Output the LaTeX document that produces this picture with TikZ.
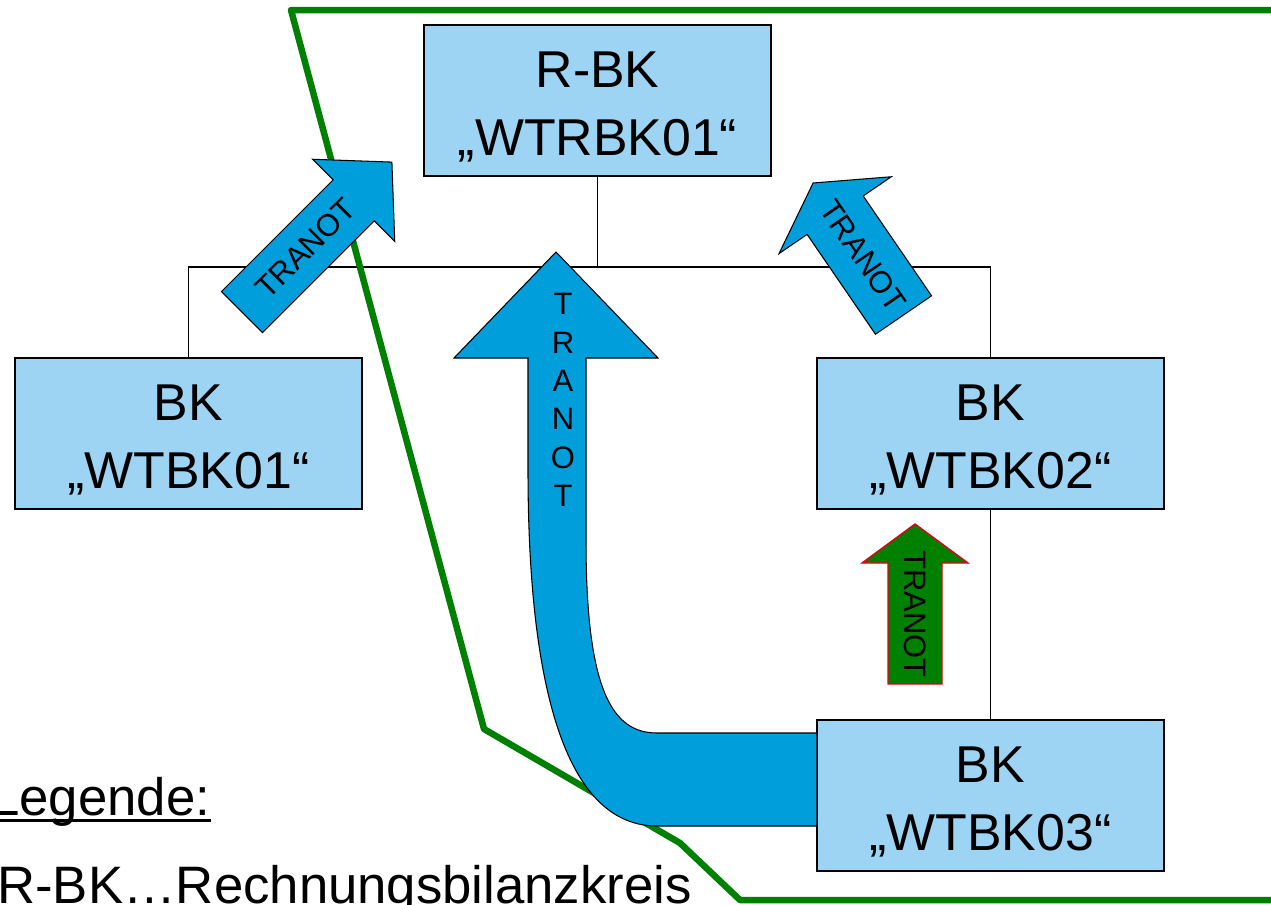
\documentclass[tikz,border=0pt]{standalone}
\usepackage{fontspec}
\setmainfont{Liberation Sans}
\definecolor{boxblue}{RGB}{157,211,243}
\definecolor{flowblue}{RGB}{0,158,219}
\definecolor{bordergreen}{RGB}{0,128,0}
\definecolor{tipred}{RGB}{228,0,27}
\newcommand{\kopfzeile}{\rule{0pt}{27.5pt}}
\begin{document}
\begin{tikzpicture}[
        x=0.02cm, y=-0.02cm,
        kreis/.style={rectangle, draw=black, line width=0.85pt, fill=boxblue, minimum width=6.94cm, minimum height=3.02cm, inner sep=0pt, align=center, font=\fontsize{29.5}{38.6}\selectfont},
        tranot/.style={draw=black, line width=0.6pt, fill=flowblue},
        arrowtext/.style={inner sep=0pt, font=\fontsize{17.6}{21.8}\selectfont},
        legendtext/.style={anchor=base west, inner sep=0pt, font=\fontsize{30}{36}\selectfont}
    ]
    \useasboundingbox (0,0) rectangle (1271,904);

    % Bilanzkreise
    \node[kreis] (rbk) at (597.5,100.5) {\kopfzeile R-BK\\„WTRBK01“};
    \node[kreis] (bk01) at (188.5,433.5) {\kopfzeile BK\\„WTBK01“};
    \node[kreis] (bk02) at (990.5,433.5) {\kopfzeile BK\\„WTBK02“};
    \node[kreis] (bk03) at (990.5,795.5) {\kopfzeile BK\\„WTBK03“};

    % Baum
    \coordinate (abzweig) at (597.5,267);
    \draw[line width=0.6pt] (rbk.south) -- (abzweig);
    \draw[line width=0.6pt] (bk01.north) |- (abzweig) -| (bk02.north);
    \draw[line width=0.6pt] (bk02.south) -- (bk03.north);

    % Grenze
    \draw[bordergreen, line width=3.7pt, line join=round] (1290,10) -- (291,10) -- (484,729) -- (680,843) -- (740,900) -- (1290,900);

    % TRANOT-Pfeile
    \begin{scope}[shift={(242,312)}, rotate=45]
        \draw[tranot] (0,-29) -- (158,-29) -- (158,-58) -- (212,0) -- (158,58) -- (158,29) -- (0,29) -- cycle;
        \node[arrowtext, rotate=45] (tranot1) at (90,0) {TRANOT};
    \end{scope}
    \begin{scope}[shift={(903.5,315)}, rotate=124.4]
        \draw[tranot] (0,-34) -- (121,-34) -- (121,-68) -- (160,0) -- (121,68) -- (121,34) -- (0,34) -- cycle;
        \node[arrowtext, rotate=-55.6] (tranot2) at (72,0) {TRANOT};
    \end{scope}
    \draw[tranot] (528,358) -- (454,358) -- (556,252) -- (658,358) -- (586,358) -- (586,540)
        .. controls (586,690) and (612,733) .. (657,733) -- (817,733) -- (817,826) -- (657,826)
        .. controls (570,826) and (528,700) .. (528,470) -- cycle;
    \node[arrowtext, align=center] (tranot3) at (563,400) {T\\R\\A\\N\\O\\T};
    \draw[fill=bordergreen, draw=tipred, line width=0.8pt] (888,684) -- (888,563) -- (862,563) -- (915,524) -- (968,563) -- (942,563) -- (942,684) -- cycle;
    \node[arrowtext, rotate=-90] (tranot4) at (915,614) {TRANOT};

    % Legende
    \node[legendtext] (legende) at (-10,815) {Legende:};
    \draw[line width=2.1pt] ([yshift=-0.11cm]legende.base west) -- ([yshift=-0.11cm]legende.base east);
    \node[legendtext] (rbkerkl) at (-3,903) {R-BK…Rechnungsbilanzkreis};
\end{tikzpicture}
\end{document}
